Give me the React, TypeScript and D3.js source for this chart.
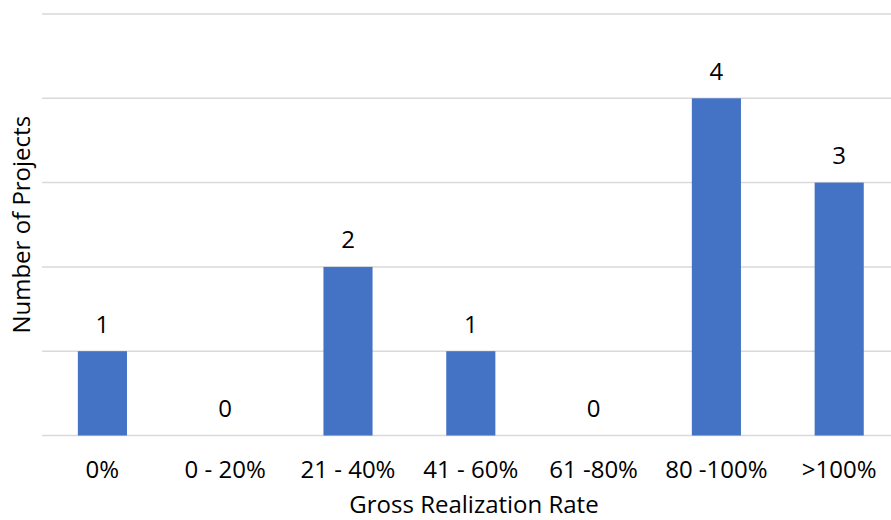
import React from "react";
import * as d3 from "d3";

// Distribution of projects by gross realization rate
const categories = ["0%", "0 - 20%", "21 - 40%", "41 - 60%", "61 -80%", "80 -100%", ">100%"];
const projectCounts = [1, 0, 2, 1, 0, 4, 3];
const yTicks = [0, 1, 2, 3, 4, 5];

const W = 891;
const H = 520;
const FONT = "'Open Sans', 'Noto Sans', sans-serif";
const BAR = "#4472C4";
const GRID = "#D9D9D9";
const TEXT = "#000000";
const FS = 24;

export default function App() {
  const x = d3
    .scaleBand<string>()
    .domain(categories)
    .range([41, 900.6])
    .paddingInner(0.6)
    .paddingOuter(0.3);
  const y = d3.scaleLinear().domain([0, 5]).range([435.5, 14]);

  return (
    <svg
      width={W}
      height={H}
      style={{ position: "absolute", left: 0, top: 0, display: "block" }}
      fontFamily={FONT}
    >
      <rect width={W} height={H} fill="#ffffff" />
      {yTicks.map((t) => (
        <line
          key={t}
          x1={42}
          x2={W}
          y1={y(t)}
          y2={y(t)}
          stroke={GRID}
          strokeWidth={1.5}
        />
      ))}
      {categories.map((c, i) => {
        const v = projectCounts[i];
        const x0 = x(c)!;
        const cx = x0 + x.bandwidth() / 2;
        return (
          <g key={c}>
            {v > 0 && (
              <rect
                x={x0}
                y={y(v)}
                width={x.bandwidth()}
                height={y(0) - y(v)}
                fill={BAR}
              />
            )}
            <text
              x={cx}
              y={y(v) - 18.5}
              textAnchor="middle"
              fontSize={FS}
              fill={TEXT}
            >
              {v}
            </text>
            <text
              x={cx}
              y={478}
              textAnchor="middle"
              fontSize={FS}
              fill={TEXT}
            >
              {c}
            </text>
          </g>
        );
      })}
      <text
        x={474}
        y={513}
        textAnchor="middle"
        fontSize={FS}
        fill={TEXT}
      >
        Gross Realization Rate
      </text>
      <text
        transform={`translate(30, ${(y(0) + y(5)) / 2}) rotate(-90)`}
        textAnchor="middle"
        fontSize={FS}
        fill={TEXT}
      >
        Number of Projects
      </text>
    </svg>
  );
}
